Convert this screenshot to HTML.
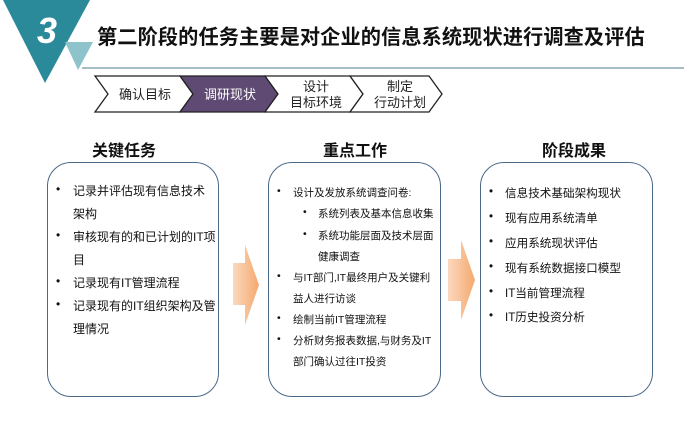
<!DOCTYPE html>
<html><head><meta charset="utf-8"><style>
*{margin:0;padding:0;box-sizing:border-box}
body{width:697px;height:427px;background:#fff;position:relative;overflow:hidden;font-family:"Liberation Sans","Noto Sans CJK SC",sans-serif;color:#111}
.abs{position:absolute}
.title{left:97px;top:21px;font-size:20.2px;font-weight:bold;white-space:nowrap;letter-spacing:0.1px}
.h{font-size:16px;font-weight:bold;top:137px;width:180px;text-align:center}
.box{border:1.5px solid #4a6a8a;border-radius:24px;background:#fff}
.ln{position:absolute;white-space:nowrap}
</style></head><body>
<svg class="abs" style="left:0;top:0" width="697" height="120">
<polygon points="3,0 90,0 45,83" fill="#2b8a99"/>
<polygon points="65,42 93,42 78,70" fill="#8fc3cb"/>
<text x="47" y="43" font-family="Liberation Sans" font-size="36" font-weight="bold" font-style="italic" fill="#fff" text-anchor="middle">3</text>
<line x1="82" y1="68" x2="684" y2="68" stroke="#6f96a3" stroke-width="1.3"/>
<polygon points="95,76 180,76 193,94 180,112 95,112 108,94" fill="#fff" stroke="#222" stroke-width="1.3"/>
<polygon points="180,76 265,76 278,94 265,112 180,112 193,94" fill="#5e4a72" stroke="#222" stroke-width="1.3"/>
<polygon points="265,76 350,76 363,94 350,112 265,112 278,94" fill="#fff" stroke="#222" stroke-width="1.3"/>
<polygon points="350,76 429,76 442,94 429,112 350,112 363,94" fill="#fff" stroke="#222" stroke-width="1.3"/>
<g font-family="Liberation Sans, Noto Sans CJK SC, sans-serif" font-size="13" text-anchor="middle">
<text x="145" y="99" fill="#222">确认目标</text>
<text x="230" y="99" fill="#fff">调研现状</text>
<text x="316" y="91" fill="#222">设计</text>
<text x="316" y="107" fill="#222">目标环境</text>
<text x="400" y="91" fill="#222">制定</text>
<text x="400" y="107" fill="#222">行动计划</text>
</g>
<text x="687" y="420" font-family="Liberation Sans" font-size="12" fill="#999" text-anchor="end">40</text>
</svg>
<div class="abs title">第二阶段的任务主要是对企业的信息系统现状进行调查及评估</div>
<div class="abs h" style="left:34px">关键任务</div>
<div class="abs h" style="left:265px">重点工作</div>
<div class="abs h" style="left:484px">阶段成果</div>
<div class="abs box" style="left:47px;top:162px;width:172px;height:235px"></div>
<div class="abs box" style="left:268px;top:162px;width:173px;height:235px"></div>
<div class="abs box" style="left:480px;top:162px;width:173px;height:235px"></div>
<svg class="abs" style="left:0;top:0" width="697" height="427">
<defs><linearGradient id="g" x1="0" x2="1"><stop offset="0" stop-color="#fbd9bd"/><stop offset="1" stop-color="#f4a870"/></linearGradient></defs>
<polygon points="233,263 245,263 245,245 259,285 245,325 245,305 233,305" fill="url(#g)"/>
<polygon points="448,259 461,259 461,240 475,280 461,320 461,301 448,301" fill="url(#g)"/>
</svg>
<div style="font-size:12px">
<div class="ln" style="left:56px;top:182px">•</div><div class="ln" style="left:73px;top:182px">记录并评估现有信息技术</div>
<div class="ln" style="left:73px;top:205px">架构</div>
<div class="ln" style="left:56px;top:228px">•</div><div class="ln" style="left:73px;top:228px">审核现有的和已计划的IT项</div>
<div class="ln" style="left:73px;top:251px">目</div>
<div class="ln" style="left:56px;top:274px">•</div><div class="ln" style="left:73px;top:274px">记录现有IT管理流程</div>
<div class="ln" style="left:56px;top:297px">•</div><div class="ln" style="left:73px;top:297px">记录现有的IT组织架构及管</div>
<div class="ln" style="left:73px;top:320px">理情况</div>
</div>
<div style="font-size:10.5px">
<div class="ln" style="left:277px;top:185px">•</div><div class="ln" style="left:293px;top:185px">设计及发放系统调查问卷:</div>
<div class="ln" style="left:303px;top:206px">•</div><div class="ln" style="left:318px;top:206px">系统列表及基本信息收集</div>
<div class="ln" style="left:303px;top:228px">•</div><div class="ln" style="left:318px;top:228px">系统功能层面及技术层面</div>
<div class="ln" style="left:318px;top:249px">健康调查</div>
<div class="ln" style="left:277px;top:270px">•</div><div class="ln" style="left:293px;top:270px">与IT部门,IT最终用户及关键利</div>
<div class="ln" style="left:293px;top:291px">益人进行访谈</div>
<div class="ln" style="left:277px;top:312px">•</div><div class="ln" style="left:293px;top:312px">绘制当前IT管理流程</div>
<div class="ln" style="left:277px;top:333px">•</div><div class="ln" style="left:293px;top:333px">分析财务报表数据,与财务及IT</div>
<div class="ln" style="left:293px;top:354px">部门确认过往IT投资</div>
</div>
<div style="font-size:11.6px">
<div class="ln" style="left:489px;top:185px">•</div><div class="ln" style="left:505px;top:185px">信息技术基础架构现状</div>
<div class="ln" style="left:489px;top:210px">•</div><div class="ln" style="left:505px;top:210px">现有应用系统清单</div>
<div class="ln" style="left:489px;top:235px">•</div><div class="ln" style="left:505px;top:235px">应用系统现状评估</div>
<div class="ln" style="left:489px;top:260px">•</div><div class="ln" style="left:505px;top:260px">现有系统数据接口模型</div>
<div class="ln" style="left:489px;top:285px">•</div><div class="ln" style="left:505px;top:285px">IT当前管理流程</div>
<div class="ln" style="left:489px;top:309px">•</div><div class="ln" style="left:505px;top:309px">IT历史投资分析</div>
</div>
</body></html>
